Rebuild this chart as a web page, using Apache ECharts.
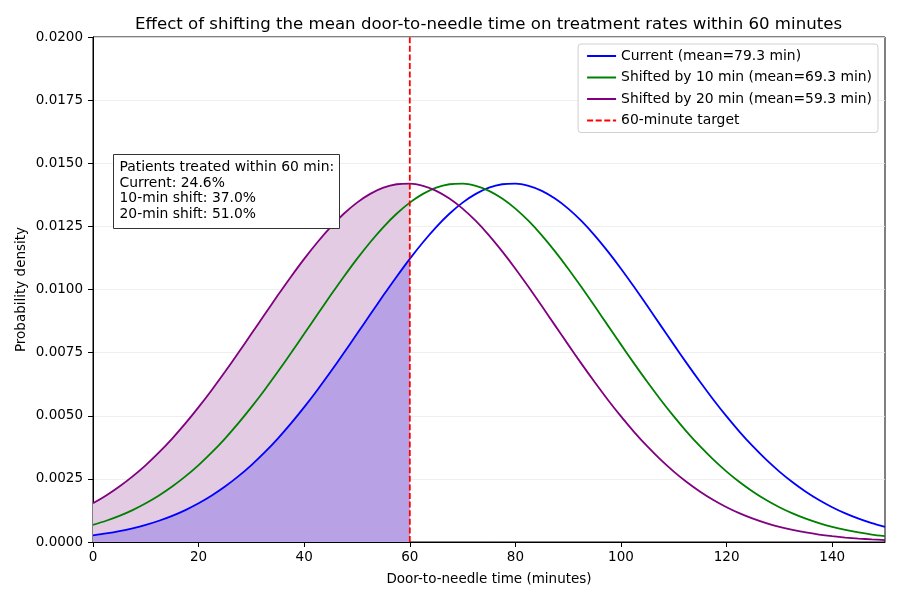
<!DOCTYPE html>
<html><head><meta charset="utf-8">
<script src="https://cdn.jsdelivr.net/npm/echarts@6/dist/echarts.min.js"></script>
<style>html,body{margin:0;padding:0;background:#fff}#c{width:900px;height:600px}</style>
</head><body><div id="c"></div>
<script>
const xValues = [0,2.5,5,7.5,10,12.5,15,17.5,20,22.5,25,27.5,30,32.5,35,37.5,40,42.5,45,47.5,50,52.5,55,57.5,60,62.5,65,67.5,70,72.5,75,77.5,80,82.5,85,87.5,90,92.5,95,97.5,100,102.5,105,107.5,110,112.5,115,117.5,120,122.5,125,127.5,130,132.5,135,137.5,140,142.5,145,147.5,150];
const current = [0.000265,0.000339,0.000430,0.000543,0.000678,0.000842,0.001035,0.001264,0.001532,0.001841,0.002195,0.002597,0.003047,0.003547,0.004097,0.004695,0.005340,0.006022,0.006740,0.007484,0.008243,0.009010,0.009768,0.010507,0.011214,0.011873,0.012473,0.012999,0.013440,0.013787,0.014032,0.014168,0.014193,0.014105,0.013908,0.013605,0.013205,0.012714,0.012146,0.011510,0.010824,0.010097,0.009345,0.008579,0.007817,0.007064,0.006334,0.005635,0.004973,0.004354,0.003783,0.003260,0.002788,0.002365,0.001991,0.001662,0.001377,0.001132,0.000923,0.000747,0.000599];
const shift10 = [0.000678,0.000842,0.001035,0.001264,0.001532,0.001841,0.002195,0.002597,0.003047,0.003547,0.004097,0.004695,0.005340,0.006022,0.006740,0.007484,0.008243,0.009010,0.009768,0.010507,0.011214,0.011873,0.012473,0.012999,0.013440,0.013787,0.014032,0.014168,0.014193,0.014105,0.013908,0.013605,0.013205,0.012714,0.012146,0.011510,0.010824,0.010097,0.009345,0.008579,0.007817,0.007064,0.006334,0.005635,0.004973,0.004354,0.003783,0.003260,0.002788,0.002365,0.001991,0.001662,0.001377,0.001132,0.000923,0.000747,0.000599,0.000477,0.000377,0.000295,0.000230];
const shift20 = [0.001532,0.001841,0.002195,0.002597,0.003047,0.003547,0.004097,0.004695,0.005340,0.006022,0.006740,0.007484,0.008243,0.009010,0.009768,0.010507,0.011214,0.011873,0.012473,0.012999,0.013440,0.013787,0.014032,0.014168,0.014193,0.014105,0.013908,0.013605,0.013205,0.012714,0.012146,0.011510,0.010824,0.010097,0.009345,0.008579,0.007817,0.007064,0.006334,0.005635,0.004973,0.004354,0.003783,0.003260,0.002788,0.002365,0.001991,0.001662,0.001377,0.001132,0.000923,0.000747,0.000599,0.000477,0.000377,0.000295,0.000230,0.000177,0.000136,0.000103,0.000078];
const targetMinutes = 60;
const annotationLines = ['Patients treated within 60 min:','Current: 24.6%','10-min shift: 37.0%','20-min shift: 51.0%'];
const seriesNames = ['Current (mean=79.3 min)','Shifted by 10 min (mean=69.3 min)','Shifted by 20 min (mean=59.3 min)','60-minute target'];

const pairs = arr => xValues.map((x,i)=>[x,arr[i]]);
const upTo = arr => pairs(arr).filter(p=>p[0]<=targetMinutes);
const F = 'DejaVu Sans';
const SM = 0.25;
const LW = 1.8;
const chart = echarts.init(document.getElementById('c'));
chart.setOption({
  animation:false,
  textStyle:{fontFamily:F},
  title:{text:'Effect of shifting the mean door-to-needle time on treatment rates within 60 minutes',left:130,top:11,textStyle:{fontFamily:F,fontSize:16.6,fontWeight:'normal',color:'#000'}},
  grid:{left:93,right:15,top:37,bottom:58,show:true,borderColor:'#000',borderWidth:1,backgroundColor:'transparent'},
  xAxis:{type:'value',min:0,max:150,interval:20,name:'Door-to-needle time (minutes)',nameLocation:'middle',nameGap:30,
    nameTextStyle:{fontSize:13.5,color:'#000'},
    axisLine:{onZero:false,lineStyle:{color:'#000'}},axisTick:{lineStyle:{color:'#000'},length:5},
    axisLabel:{fontSize:13.5,color:'#000',margin:8,showMaxLabel:false},splitLine:{show:false}},
  yAxis:{type:'value',min:0,max:0.02,interval:0.0025,name:'Probability density',nameLocation:'middle',nameGap:65,nameMoveOverlap:false,
    nameTextStyle:{fontSize:13.5,color:'#000'},
    axisLine:{show:true,lineStyle:{color:'#000'}},axisTick:{show:true,lineStyle:{color:'#000'},length:5},
    axisLabel:{fontSize:13.5,color:'#000',margin:10,formatter:v=>v.toFixed(4)},
    splitLine:{show:true,lineStyle:{color:'#ebebeb',width:0.8}}},
  legend:{orient:'vertical',right:22,top:44,data:seriesNames,itemWidth:29,itemHeight:10,itemGap:7.5,
    itemStyle:{opacity:0,borderWidth:0},
    backgroundColor:'#fff',borderColor:'#d0d0d0',borderWidth:1,borderRadius:3,padding:[5,6,5,8],
    textStyle:{fontSize:13.9,color:'#000'}},
  series:[
    {type:'line',name:'fill20',data:upTo(shift20),smooth:SM,symbol:'none',lineStyle:{width:0},areaStyle:{color:'#e3cce3',opacity:1},z:1,silent:true},
    {type:'line',name:'fillCur',data:upTo(current),smooth:SM,symbol:'none',lineStyle:{width:0},areaStyle:{color:'#b9a1e5',opacity:1},z:2,silent:true},
    {type:'line',name:seriesNames[0],data:pairs(current),smooth:SM,symbol:'none',lineStyle:{color:'#0000ff',width:LW},itemStyle:{color:'#0000ff'},z:5},
    {type:'line',name:seriesNames[1],data:pairs(shift10),smooth:SM,symbol:'none',lineStyle:{color:'#008000',width:LW},itemStyle:{color:'#008000'},z:5},
    {type:'line',name:seriesNames[2],data:pairs(shift20),smooth:SM,symbol:'none',lineStyle:{color:'#800080',width:LW},itemStyle:{color:'#800080'},z:5},
    {type:'line',name:seriesNames[3],data:[[targetMinutes,0],[targetMinutes,0.02]],symbol:'none',lineStyle:{color:'#ff0000',width:LW,type:[6,2.6]},itemStyle:{color:'#ff0000'},z:6}
  ],
  graphic:[{type:'group',left:113,top:154,z:100,children:[
    {type:'rect',z:100,shape:{x:0,y:0,width:226,height:74},style:{fill:'#fff',stroke:'#333',lineWidth:1}},
    {type:'text',z:101,left:6,top:5,style:{text:annotationLines.join('\n'),font:'13.9px "DejaVu Sans"',lineHeight:15.7,fill:'#000'}}
  ]}]
});
</script></body></html>
